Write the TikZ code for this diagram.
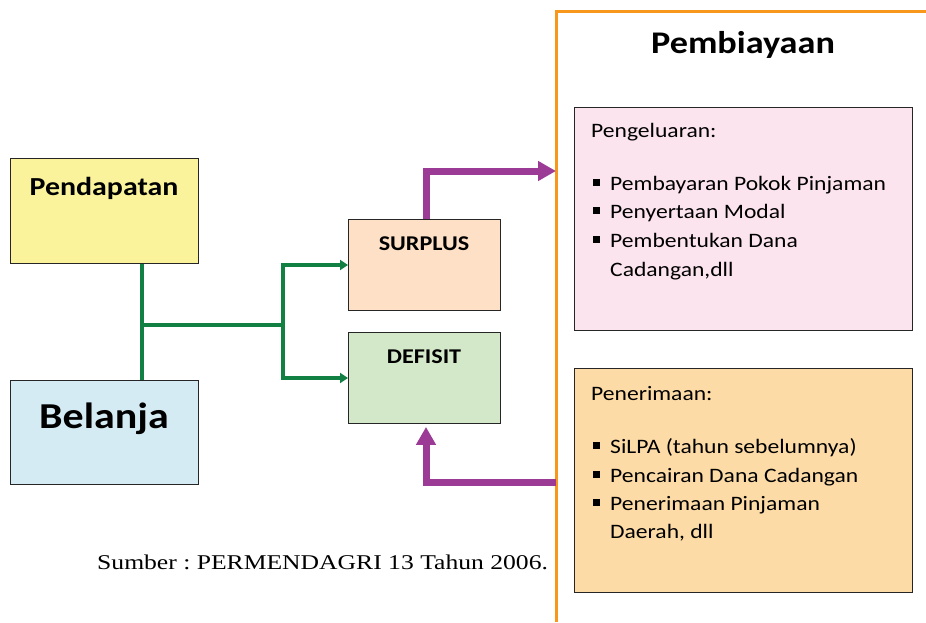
\documentclass[tikz,border=0pt]{standalone}
\usepackage{fontspec}
\setmainfont{Carlito}[FakeStretch=1.15]
\newfontfamily\capfont{Liberation Serif}[FakeStretch=1.22]
\usetikzlibrary{arrows.meta}
\definecolor{pendfill}{HTML}{FAF39C}
\definecolor{belfill}{HTML}{D4EBF3}
\definecolor{surfill}{HTML}{FDE0C5}
\definecolor{deffill}{HTML}{D3E8C9}
\definecolor{outfill}{HTML}{FCE4EE}
\definecolor{infill}{HTML}{FCDBA7}
\definecolor{orangeline}{HTML}{F7981D}
\definecolor{flowpurple}{HTML}{9B3B96}
\definecolor{flowgreen}{HTML}{138043}
\newcommand{\fs}[1]{\fontsize{#1}{#1}\selectfont}
\newcommand{\sqbullet}{\rule[4.5pt]{6.5pt}{6.5pt}}
\frenchspacing
\tikzset{
  box/.style={draw=black!85, line width=0.9pt, anchor=north west, inner sep=0pt},
  lbl/.style={anchor=base, inner sep=0pt},
  item/.style={anchor=base west, inner sep=0pt, font=\fs{20.5}},
  gline/.style={draw=flowgreen, line width=3.2pt},
  garrow/.style={gline, -{Triangle[length=8pt,width=10pt]}},
  parrow/.style={draw=flowpurple, line width=7pt, -{Triangle[length=18pt,width=19pt]}},
}
\begin{document}
\begin{tikzpicture}[x=1pt,y=-1pt]
\useasboundingbox (0,0) rectangle (926,622);

% left-hand boxes
\node[box, fill=pendfill, minimum width=188pt, minimum height=105pt] (pend) at (10,158) {};
\node[lbl, font=\bfseries\fs{26}] (pendtxt) at (104,195) {Pendapatan};
\node[box, fill=belfill, minimum width=188pt, minimum height=104pt] (bel) at (10,380) {};
\node[lbl, font=\bfseries\fs{36.5}] (beltxt) at (104,428) {Belanja};

% result boxes
\node[box, fill=surfill, minimum width=152pt, minimum height=91pt] (sur) at (348,219) {};
\node[lbl, font=\bfseries\fs{21}] (surtxt) at (424,250) {SURPLUS};
\node[box, fill=deffill, minimum width=152pt, minimum height=91pt] (def) at (348,332) {};
\node[lbl, font=\bfseries\fs{21}] (deftxt) at (424,363) {DEFISIT};

% financing frame
\coordinate (ftop) at (556,11);
\coordinate (fbot) at (556,622);
\coordinate (fright) at (926,11);
\draw[orangeline, line width=3pt] (fbot) -- (ftop) -- (fright);
\node[lbl, font=\bfseries\fs{31.5}] (pemb) at (743,53) {Pembiayaan};

\node[box, fill=outfill, minimum width=338pt, minimum height=223pt] (out) at (574,107) {};
\node[item] (o0) at (591,137) {Pengeluaran:};
\node[item] (o1) at (610,190) {Pembayaran Pokok Pinjaman};
\node[item] (o2) at (610,218) {Penyertaan Modal};
\node[item] (o3) at (610,247) {Pembentukan Dana};
\node[item] (o4) at (610,276) {Cadangan,dll};
\foreach \n in {o1,o2,o3}
  \node[anchor=base east, inner sep=0pt, font=\fs{20}] at ([xshift=-10pt]\n.base west) {\sqbullet};

\node[box, fill=infill, minimum width=338pt, minimum height=224pt] (in) at (574,368) {};
\node[item] (i0) at (591,400) {Penerimaan:};
\node[item] (i1) at (610,453) {SiLPA (tahun sebelumnya)};
\node[item] (i2) at (610,482) {Pencairan Dana Cadangan};
\node[item] (i3) at (610,510) {Penerimaan Pinjaman};
\node[item] (i4) at (610,538) {Daerah, dll};
\foreach \n in {i1,i2,i3}
  \node[anchor=base east, inner sep=0pt, font=\fs{20}] at ([xshift=-10pt]\n.base west) {\sqbullet};

% green connectors
\coordinate (gjoin) at (142,325);
\coordinate (gsplit) at (283,325);
\draw[gline] (pend.south -| gjoin) -- (bel.north -| gjoin);
\draw[gline] (gjoin) -- (gsplit);
\draw[garrow] (gsplit) |- (sur.west |- 0,265);
\draw[garrow] (gsplit) |- (def.west |- 0,378);

% purple connectors
\coordinate (ptop) at (556,171);
\coordinate (pbot) at (556,482);
\draw[parrow] (sur.north -| 426,0) |- (ptop);
\draw[parrow] (pbot) -| ([yshift=-3pt]def.south -| 426,0);

% source note
\node[anchor=base west, inner sep=0pt, font=\capfont\fs{21}] (src) at (97,569) {Sumber : PERMENDAGRI 13 Tahun 2006.};
\end{tikzpicture}
\end{document}
